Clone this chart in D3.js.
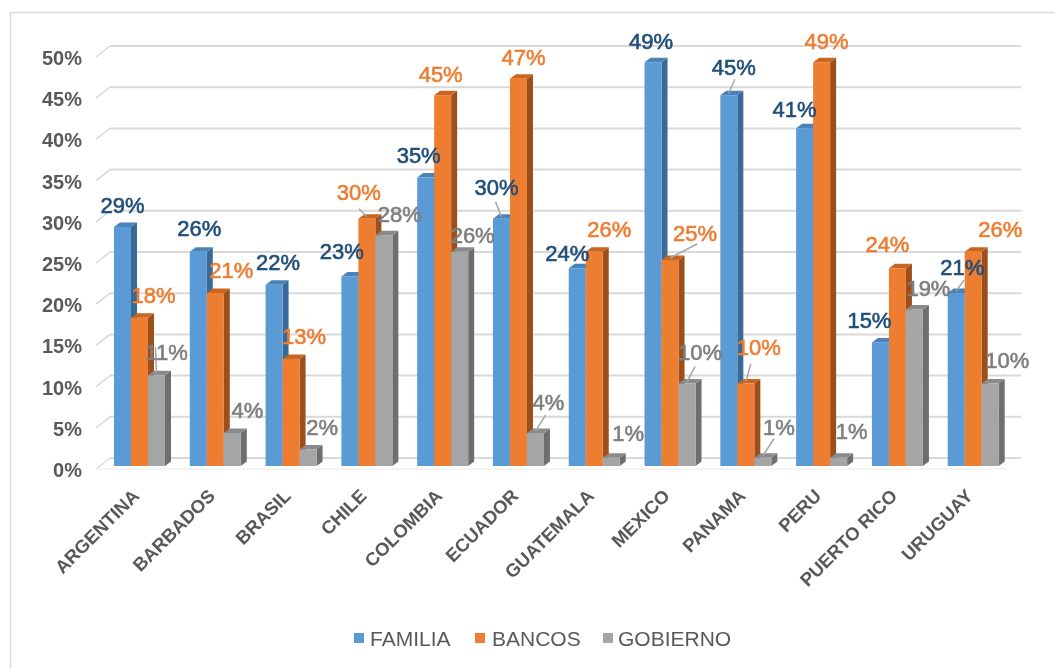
<!DOCTYPE html>
<html><head><meta charset="utf-8">
<script src="https://cdnjs.cloudflare.com/ajax/libs/d3/7.8.5/d3.min.js"></script>
<style>html,body{margin:0;padding:0;background:#fff}svg{display:block;filter:blur(0.45px)}text{font-family:"Liberation Sans",Arial,sans-serif}</style>
</head><body><svg id="c" width="1055" height="668"></svg>
<script>
const categories=["ARGENTINA","BARBADOS","BRASIL","CHILE","COLOMBIA","ECUADOR","GUATEMALA","MEXICO","PANAMA","PERU","PUERTO RICO","URUGUAY"];
const seriesNames=["FAMILIA","BANCOS","GOBIERNO"];
const familia=[29,26,22,23,35,30,24,49,45,41,15,21];
const bancos=[18,21,13,30,45,47,26,25,10,49,24,26];
const gobierno=[11,4,2,28,26,4,1,10,1,1,19,10];
const yTicks=[0,5,10,15,20,25,30,35,40,45,50];
const colors=["#5b9bd5","#ed7d31","#a5a5a5"];
const sideColors=["#386a97","#9c4f1a","#6e6e6e"];
const topColors=["#4a83b8","#c9651f","#8a8a8a"];
const labelColors=["#1f4e79","#ed7d31","#7f7f7f"];
// label centre offsets from the top-centre of each bar: [dx, dy]
const labelOffsets=[
 [[0,-22],[1,-23],[4,-22],[-8,-25],[-7,-22],[-5,-32],[-10,-15],[-2,-21],[5,-28],[-10,-19],[-11,-22],[6,-26]],
 [[14,-22],[16,-23],[13,-23],[-8,-27],[-2,-21],[5,-21],[15,-22],[25,-27],[13,-36],[5,-21],[-10,-24],[27,-22]],
 [[10,-23],[15,-23],[14,-22],[16,-21],[13,-16],[13,-31],[17,-24],[13,-31],[16,-30],[13,-26],[14,-21],[17,-23]]
];
// leader lines: series index, category index, end offset from the bar's top-centre
const leaders=[[0,5,-6,-15],[0,8,6,-14],[0,11,8,-11],[1,3,-8,-8],[1,7,27,-14],[1,8,5,-18],[2,0,-1,-26],[2,5,10,-16],[2,7,8,-15],[2,8,11,-17]];
const H=668,depthX=6,depthY=8,sideRise=4.5;
const y=d3.scaleLinear().domain([0,50]).range([466,54]);
const x0=d3.scaleBand().domain(categories).range([101.5,1011]);
const x1=d3.scaleBand().domain(d3.range(3)).range([12.5,63.5]);
const svg=d3.select("#c");
// frame
svg.append("path").attr("d",`M10.5 ${H}V12.5H1055`).attr("fill","none").attr("stroke","#d9d9d9").attr("stroke-width",1.5);
// grid
const wallL=110,wallR=1021,floorL=96;
const g=svg.append("g");
g.selectAll("line.w").data(yTicks).join("line").attr("x1",wallL).attr("x2",wallR)
 .attr("y1",d=>y(d)-depthY).attr("y2",d=>y(d)-depthY).attr("stroke","#d9d9d9").attr("stroke-width",2);
g.selectAll("line.d").data(yTicks).join("line").attr("x1",floorL).attr("x2",wallL)
 .attr("y1",d=>y(d)+3).attr("y2",d=>y(d)-depthY).attr("stroke","#d9d9d9").attr("stroke-width",1.5);
g.append("line").attr("x1",floorL).attr("x2",wallR-14).attr("y1",y(0)+3).attr("y2",y(0)+3).attr("stroke","#e8e8e8").attr("stroke-width",1);
// y labels
svg.selectAll("text.yt").data(yTicks).join("text").attr("class","yt").attr("x",82).attr("y",d=>y(d)+11)
 .attr("text-anchor","end").attr("font-size",20).attr("font-weight",700).attr("fill","#595959").text(d=>d+"%");
// bars
const allSeries=[familia,bancos,gobierno];
const barsG=svg.append("g");
categories.forEach((c,ci)=>{
 [0,1,2].forEach(si=>{
  const v=allSeries[si][ci],bx=x0(c)+x1(si),bw=x1.bandwidth(),ty=y(v),by=y(0);
  const b=barsG.append("g");
  b.append("path").attr("d",`M${bx+bw} ${ty}l${depthX} ${-sideRise}V${by-sideRise}L${bx+bw} ${by}Z`).attr("fill",sideColors[si]);
  b.append("path").attr("d",`M${bx} ${ty}l${depthX} ${-sideRise}h${bw}l${-depthX} ${sideRise}Z`).attr("fill",topColors[si]);
  b.append("rect").attr("x",bx).attr("y",ty).attr("width",bw).attr("height",by-ty).attr("fill",colors[si]);
 });
});
// leaders
svg.append("g").selectAll("line").data(leaders).join("line")
 .attr("x1",d=>x0(categories[d[1]])+x1(d[0])+x1.bandwidth()/2)
 .attr("y1",d=>y(allSeries[d[0]][d[1]])-2)
 .attr("x2",d=>x0(categories[d[1]])+x1(d[0])+x1.bandwidth()/2+d[2])
 .attr("y2",d=>y(allSeries[d[0]][d[1]])-2+d[3])
 .attr("stroke","#a6a6a6").attr("stroke-width",1.5);
// labels
const lab=svg.append("g");
allSeries.forEach((vals,si)=>vals.forEach((v,ci)=>{
 const c=categories[ci],bx=x0(c)+x1(si)+x1.bandwidth()/2,[dx,dy]=labelOffsets[si][ci];
 lab.append("text").attr("x",bx+dx).attr("y",y(v)+dy).attr("dy","0.35em").attr("text-anchor","middle")
  .attr("font-size",22).attr("stroke",labelColors[si]).attr("stroke-width",0.6)
  .attr("fill",labelColors[si]).text(v+"%");
}));
// category labels
svg.selectAll("text.ct").data(categories).join("text").attr("class","ct")
 .attr("transform",c=>`translate(${x0(c)+x0.bandwidth()/2+1},497) rotate(-45)`)
 .attr("text-anchor","end").attr("font-size",18.5).attr("font-weight",700).attr("fill","#595959").text(d=>d);
// legend
const legX=[354,475,603],legT=[370,492,618];
seriesNames.forEach((s,i)=>{
 svg.append("rect").attr("x",legX[i]).attr("y",633).attr("width",10).attr("height",10).attr("fill",colors[i]);
 svg.append("text").attr("x",legT[i]).attr("y",646).attr("font-size",21).attr("fill","#595959").text(s);
});
</script></body></html>
